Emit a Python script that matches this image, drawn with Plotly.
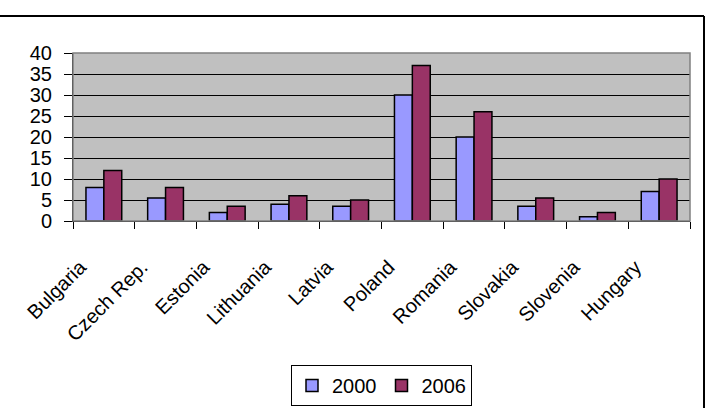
import plotly.graph_objects as go

countries = ["Bulgaria", "Czech Rep.", "Estonia", "Lithuania", "Latvia",
             "Poland", "Romania", "Slovakia", "Slovenia", "Hungary"]
values_2000 = [8, 5.5, 2, 4, 3.5, 30, 20, 3.5, 1, 7]
values_2006 = [12, 8, 3.5, 6, 5, 37, 26, 5.5, 2, 10]

W, H = 706, 408
L, R, T, B = 73, 690, 53, 221  # plot area in pixels
pw, ph = R - L, B - T

def px(x):
    return (x - L) / pw

def py(y):
    return (B - y) / ph

FONT = "Arial, Liberation Sans, sans-serif"
PAD = "\u00a0" * 6
ticktext = [c + PAD for c in countries]

fig = go.Figure()
fig.add_trace(go.Bar(name="2000", x=countries, y=values_2000,
                     marker=dict(color="#9999FF", line=dict(color="black", width=1.5))))
fig.add_trace(go.Bar(name="2006", x=countries, y=values_2006,
                     marker=dict(color="#993366", line=dict(color="black", width=1.5))))

fig.update_layout(
    width=W, height=H,
    margin=dict(l=L, r=W - R, t=T, b=H - B, pad=0, autoexpand=False),
    paper_bgcolor="white",
    plot_bgcolor="#C0C0C0",
    barmode="group",
    bargap=0.42,
    bargroupgap=0,
    font=dict(family=FONT, color="black"),
    showlegend=True,
    legend=dict(orientation="h", x=0.5, xanchor="center", y=py(406), yanchor="bottom",
                bordercolor="black", borderwidth=1, bgcolor="white",
                font=dict(size=20, family=FONT), itemwidth=30,
                traceorder="normal"),
    xaxis=dict(
        tickangle=-45, tickfont=dict(size=20, family=FONT),
        tickmode="array", tickvals=countries, ticktext=ticktext,
        showline=True, linecolor="black", linewidth=1,
        ticks="outside", ticklen=7, tickcolor="black", tickson="boundaries",
        ticklabelstandoff=2,
        showgrid=False, fixedrange=True, automargin=False,
    ),
    yaxis=dict(
        range=[0, 40], dtick=5, tickfont=dict(size=20, family=FONT),
        showline=True, linecolor="black", linewidth=1,
        ticks="outside", ticklen=8, tickcolor="black",
        ticklabelstandoff=8,
        showgrid=True, gridcolor="black", gridwidth=1,
        zeroline=False, fixedrange=True, automargin=False,
    ),
    shapes=[
        dict(type="rect", xref="paper", yref="paper", x0=0, x1=1, y0=0, y1=1,
             line=dict(color="#808080", width=1.5), layer="above"),
        dict(type="line", xref="paper", yref="paper", x0=px(0), x1=px(704),
             y0=py(16), y1=py(16), line=dict(color="black", width=2)),
        dict(type="line", xref="paper", yref="paper", x0=px(704), x1=px(704),
             y0=py(16), y1=py(410), line=dict(color="black", width=2)),
    ],
)

fig.write_html("out.html")
